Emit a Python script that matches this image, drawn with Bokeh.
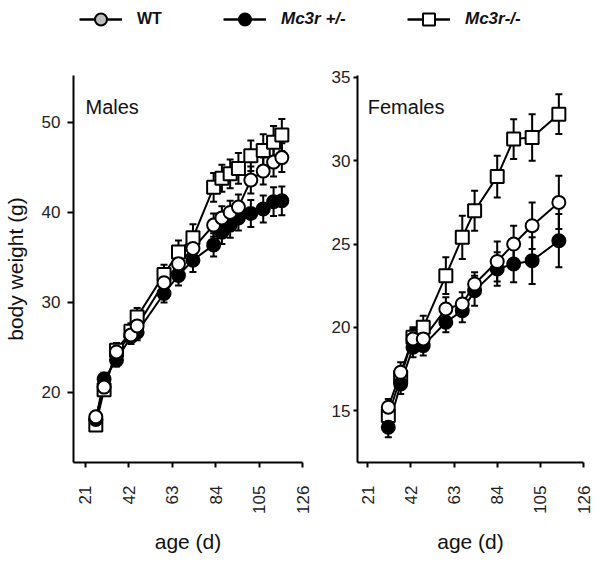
import math
from bokeh.plotting import figure
from bokeh.models import (ColumnDataSource, Whisker, TeeHead, FixedTicker, Label,
                          Legend, LegendItem, Range1d)
from bokeh.layouts import column, row
from bokeh.embed import file_html
from bokeh.resources import INLINE

FONT = "Liberation Sans"

# ---------------- data ----------------
x_ticks = [21, 42, 63, 84, 105, 126]
male_y_ticks = [20, 30, 40, 50]
female_y_ticks = [15, 20, 25, 30, 35]

male_days = [26, 30, 36, 43, 46, 59, 66, 73, 83, 87, 91, 95, 101, 107, 112, 116]
male_wt = [17.3, 20.6, 24.5, 26.4, 27.4, 32.2, 34.3, 36.0, 38.6, 39.4, 40.0, 40.6, 43.6, 44.6, 45.6, 46.1]
male_het = [17.0, 21.5, 23.6, 26.2, 26.7, 31.0, 33.0, 34.7, 36.4, 37.8, 38.6, 39.4, 39.9, 40.4, 41.2, 41.3]
male_ko = [16.4, 20.3, 24.7, 26.8, 28.4, 33.1, 35.6, 37.2, 42.8, 43.8, 44.3, 44.9, 46.3, 46.9, 47.8, 48.6]
male_wt_err = [0.5, 0.6, 0.7, 0.8, 0.8, 0.9, 1.0, 1.2, 1.3, 1.3, 1.3, 1.4, 1.5, 1.5, 1.6, 1.6]
male_het_err = [0.6, 0.7, 0.7, 0.8, 0.9, 1.0, 1.1, 1.3, 1.3, 1.3, 1.4, 1.4, 1.5, 1.5, 1.6, 1.6]
male_ko_err = [0.6, 0.7, 0.8, 0.9, 1.0, 1.1, 1.3, 1.5, 1.6, 1.5, 1.6, 1.7, 1.7, 1.8, 1.8, 1.8]

female_days = [31, 37, 43, 48, 59, 67, 73, 84, 92, 101, 114]
female_wt = [15.2, 17.3, 19.3, 19.3, 21.1, 21.4, 22.6, 23.95, 25.0, 26.1, 27.5]
female_het = [14.0, 16.6, 18.8, 18.9, 20.3, 21.0, 22.2, 23.5, 23.8, 24.0, 25.2]
female_ko = [14.7, 17.0, 19.4, 20.0, 23.1, 25.4, 27.0, 29.05, 31.3, 31.4, 32.8]
female_wt_err = [0.5, 0.6, 0.6, 0.6, 0.7, 0.7, 0.7, 1.2, 1.1, 1.4, 1.6]
female_het_err = [0.6, 0.6, 0.6, 0.6, 0.6, 0.7, 0.9, 1.0, 1.1, 1.4, 1.6]
female_ko_err = [0.5, 0.6, 0.6, 0.7, 1.1, 1.3, 1.2, 1.25, 1.2, 1.4, 1.2]

series_names = ["WT", "Mc3r +/-", "Mc3r-/-"]


def style_axes(p, yticks, ylabel, left_tick_out, left_standoff):
    p.xaxis.ticker = FixedTicker(ticks=x_ticks)
    p.yaxis.ticker = FixedTicker(ticks=yticks)
    for ax in (p.xaxis, p.yaxis):
        ax.axis_line_width = 2
        ax.axis_line_color = "black"
        ax.major_tick_line_width = 2
        ax.major_tick_line_color = "black"
        ax.major_tick_in = 0
        ax.minor_tick_line_color = None
        ax.major_label_text_font = FONT
        ax.major_label_text_font_size = "17px"
        ax.major_label_text_color = "#222222"
        ax.axis_label_text_font = FONT
        ax.axis_label_text_font_size = "21px"
        ax.axis_label_text_font_style = "normal"
        ax.axis_label_text_color = "#111111"
    p.xaxis.major_tick_out = 5
    p.xaxis.major_label_orientation = math.pi / 2
    p.xaxis.major_label_standoff = 18
    p.xaxis.axis_label = "age (d)"
    p.xaxis.axis_label_standoff = 13
    p.yaxis.major_tick_out = left_tick_out
    p.yaxis.major_label_standoff = left_standoff
    if ylabel:
        p.yaxis.axis_label = ylabel
        p.yaxis.axis_label_standoff = 12
    p.xgrid.grid_line_color = None
    p.ygrid.grid_line_color = None
    p.outline_line_color = None
    p.background_fill_color = "white"


def add_series(p, days, vals, errs, marker, fill, layer):
    lo = [v - e for v, e in zip(vals, errs)]
    hi = [v + e for v, e in zip(vals, errs)]
    src = ColumnDataSource(dict(x=days, y=vals, lo=lo, hi=hi))
    if layer == "bars":
        w = Whisker(source=src, base="x", upper="hi", lower="lo",
                    line_width=2, line_color="black",
                    upper_head=TeeHead(size=7, line_width=2, line_color="black"),
                    lower_head=TeeHead(size=7, line_width=2, line_color="black"))
        p.add_layout(w)
    elif layer == "line":
        p.line("x", "y", source=src, line_width=2, line_color="black")
    else:
        p.scatter("x", "y", source=src, marker=marker, size=13,
                  fill_color=fill, line_color="black", line_width=2)


def make_panel(days, wt, het, ko, wt_e, het_e, ko_e, width, height, xr, yr,
               border, yticks, ylabel, title, title_pos, tick_out, standoff):
    p = figure(width=width, height=height, x_range=Range1d(*xr), y_range=Range1d(*yr),
               toolbar_location=None, output_backend="svg",
               min_border_left=border[0], min_border_right=border[1],
               min_border_top=border[2], min_border_bottom=border[3])
    style_axes(p, yticks, ylabel, tick_out, standoff)
    specs = [(ko, ko_e, "square", "white"), (het, het_e, "circle", "black"),
             (wt, wt_e, "circle", "white")]
    for layer in ("bars", "line", "marks"):
        for vals, errs, mk, fill in specs:
            add_series(p, days, vals, errs, mk, fill, layer)
    p.add_layout(Label(x=title_pos[0], y=title_pos[1], text=title, text_font=FONT,
                       text_font_size="20px", text_color="#111111",
                       text_baseline="alphabetic"))
    return p


PANEL_H = 496
males = make_panel(male_days, male_wt, male_het, male_ko,
                   male_wt_err, male_het_err, male_ko_err,
                   312, PANEL_H, (15.2, 126), (12.22, 55.22), (73, 10, 15, 94),
                   male_y_ticks, "body weight (g)", "Males", (21, 51.7), 6, 7)
females = make_panel(female_days, female_wt, female_het, female_ko,
                     female_wt_err, female_het_err, female_ko_err,
                     286, PANEL_H, (16.0, 126), (11.88, 35.12), (45, 15, 15, 94),
                     female_y_ticks, None, "Females", (21, 33.2), 4, 3)

# ---------------- legend strip ----------------
LEG_H = 60
lf = figure(width=598, height=LEG_H, x_range=(0, 1), y_range=(0, 1),
            toolbar_location=None, output_backend="svg", min_border=0)
lf.axis.visible = False
lf.xgrid.grid_line_color = None
lf.ygrid.grid_line_color = None
lf.outline_line_color = None

legend_specs = [("circle", "#bdbdbd", "bold", 79, "16px"),
                ("circle", "black", "bold italic", 223, "17px"),
                ("square", "white", "bold italic", 407, "17px")]
for name, (mk, fill, style, lx, fs) in zip(series_names, legend_specs):
    ln = lf.line(x=[-5, -4], y=[-5, -4], line_width=2.5, line_color="black")
    sc = lf.scatter(x=[-5], y=[-5], marker=mk, fill_color=fill,
                    line_color="black", line_width=2)
    leg = Legend(items=[LegendItem(label=name, renderers=[ln, sc])],
                 location=(lx, 26), orientation="horizontal",
                 glyph_width=43, glyph_height=30, label_height=30, label_standoff=15,
                 padding=0, margin=0, spacing=0, border_line_color=None,
                 background_fill_alpha=0, label_text_font=FONT,
                 label_text_font_size=fs, label_text_font_style=style,
                 label_text_color="#111111")
    lf.add_layout(leg)

layout = column(lf, row(males, females))
open("out.html", "w").write(file_html(layout, INLINE))
